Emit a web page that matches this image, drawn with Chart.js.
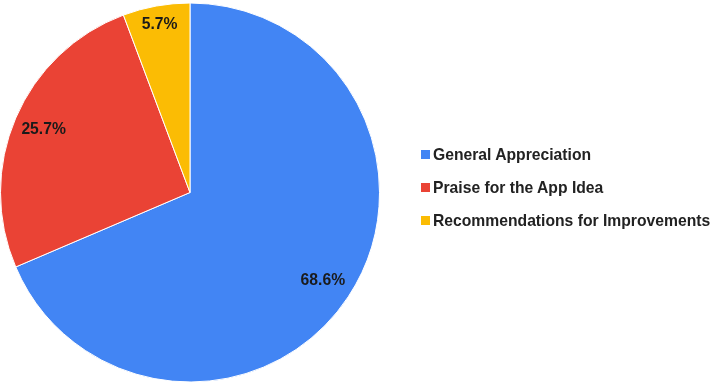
<!DOCTYPE html>
<html>
<head>
<meta charset="utf-8">
<script src="https://cdn.jsdelivr.net/npm/chart.js@4.4.1/dist/chart.umd.min.js"></script>
<style>
  html, body { margin: 0; padding: 0; background: #fff; }
  #wrap { position: relative; width: 713px; height: 387px; }
  #legend { position: absolute; left: 421px; top: 143px; font-family: "Liberation Sans", Arial, sans-serif; font-weight: bold; font-size: 15.7px; color: #222; }
  #legend div { height: 33px; line-height: 24px; white-space: nowrap; }
  #legend span { display: inline-block; width: 9px; height: 9px; margin-right: 3px; vertical-align: 1px; }
</style>
</head>
<body>
<div id="wrap">
  <canvas id="pieChart" width="713" height="387"></canvas>
  <div id="legend"></div>
</div>
<script>
// Categorías y valores (respuestas)
const categories = ['General Appreciation', 'Praise for the App Idea', 'Recommendations for Improvements'];
const responses = [24, 9, 2];
const colors = ['#4285F4', '#EA4335', '#FBBC04'];

document.addEventListener('DOMContentLoaded', function() {
    const total = responses.reduce((a, b) => a + b, 0);

    // Etiquetas de porcentaje dentro de cada porción
    const sliceLabels = {
        id: 'sliceLabels',
        afterDatasetsDraw(chart) {
            const ctx = chart.ctx;
            const meta = chart.getDatasetMeta(0);
            ctx.save();
            ctx.font = 'bold 15.7px "Liberation Sans", Arial, sans-serif';
            ctx.fillStyle = '#1a1a1a';
            ctx.textAlign = 'center';
            ctx.textBaseline = 'middle';
            meta.data.forEach((arc, i) => {
                const share = responses[i] / total;
                const mid = (arc.startAngle + arc.endAngle) / 2;
                const f = share < 0.1 ? 0.9 : 0.84;
                const r = arc.outerRadius * f;
                const x = arc.x + Math.cos(mid) * r;
                const y = arc.y + Math.sin(mid) * r;
                ctx.fillText((share * 100).toFixed(1) + '%', x, y);
            });
            ctx.restore();
        }
    };

    new Chart(document.getElementById('pieChart'), {
        type: 'pie',
        data: {
            labels: categories,
            datasets: [{
                data: responses,
                backgroundColor: colors,
                borderColor: '#ffffff',
                borderWidth: 1
            }]
        },
        options: {
            responsive: false,
            animation: false,
            layout: { padding: { left: 0, top: 2, bottom: 4, right: 333 } },
            plugins: {
                legend: { display: false },
                tooltip: { enabled: false }
            }
        },
        plugins: [sliceLabels]
    });

    // Leyenda a la derecha
    const legend = document.getElementById('legend');
    categories.forEach((name, i) => {
        const row = document.createElement('div');
        const box = document.createElement('span');
        box.style.background = colors[i];
        row.appendChild(box);
        row.appendChild(document.createTextNode(name));
        legend.appendChild(row);
    });
});
</script>
</body>
</html>
